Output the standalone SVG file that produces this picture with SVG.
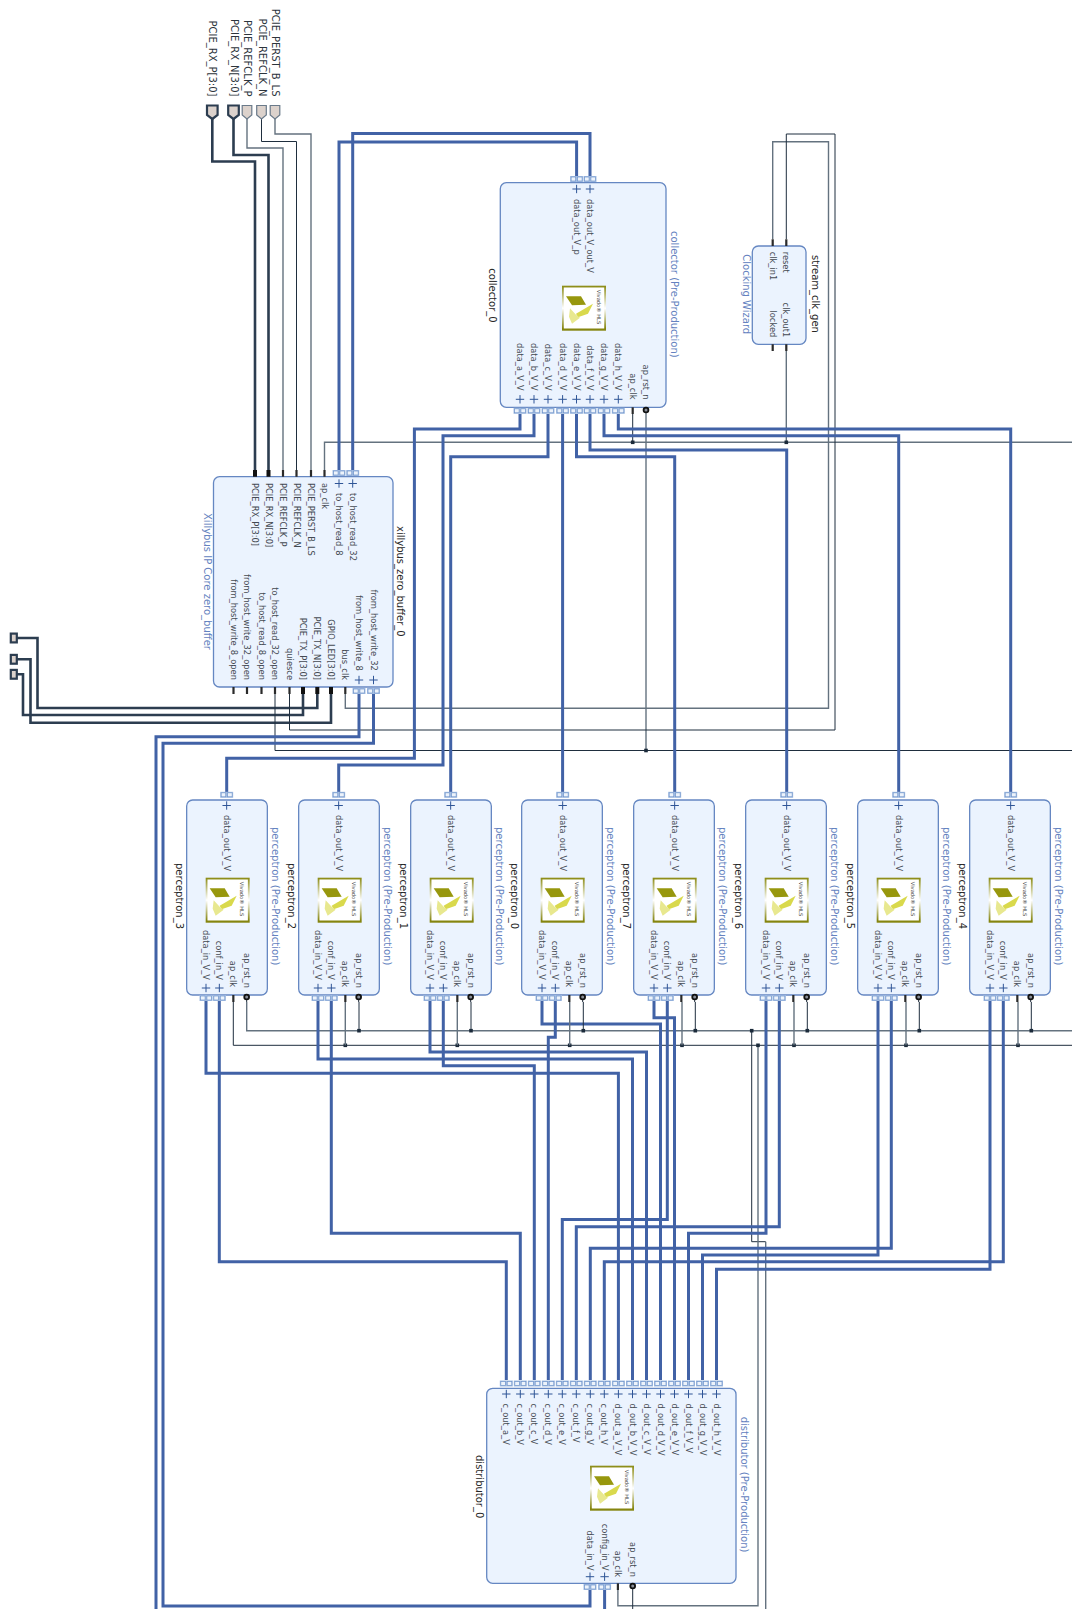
<svg xmlns="http://www.w3.org/2000/svg" width="1072" height="1609" viewBox="0 0 1072 1609">
<style>
text{font-family:"DejaVu Sans","Liberation Sans",sans-serif}
.n{font-size:10px;fill:#262626}
.ip{font-size:10px;fill:#6482c0}
.p{font-size:8.3px;fill:#444a52}
.e{text-anchor:end}
.pt{font-size:10px;fill:#2c343c;text-anchor:end}
.box{fill:#ebf3fe;stroke:#6587c2;stroke-width:1.3}
.bus{fill:none;stroke:#4162a6;stroke-width:3}
.dk{fill:none;stroke:#1f2e3e;stroke-width:1}
.gr{fill:none;stroke:#64727f;stroke-width:1.4}
.th{fill:none;stroke:#2c3d50;stroke-width:2.6}
.stub{stroke:#2a2a2a;stroke-width:2.2}
.stubb{stroke:#111;stroke-width:4}
.port{fill:#dcd2cc;stroke:#6a7a8a;stroke-width:1.2}
.portb{fill:#dcd2cc;stroke:#2c3d50;stroke-width:2.2}
.inv{fill:#8a8f99;stroke:#111;stroke-width:1.8}
</style>
<defs>
<linearGradient id="lg" x1="0" y1="0" x2="0" y2="1"><stop offset="0" stop-color="#8a8a12"/><stop offset=".5" stop-color="#ffffff"/><stop offset=".95" stop-color="#85850f"/></linearGradient>
<g id="logo">
<rect width="44" height="45" fill="url(#lg)"/><rect x="1.8" y="1.8" width="40.4" height="41" fill="#fff"/>
<polygon points="4,10.5 19,10.5 24,19 10,19.5" fill="#97970d"/>
<polygon points="14,28 31,18 26,28 16,31.5" fill="#d9d94c"/>
<polygon points="8,22.5 14,29 18,32 10,38 7,31" fill="#e8e88f"/>
<text transform="translate(34.5,4) rotate(90)" style="font-size:5.2px;fill:#444">Vivado® HLS</text>
</g>
<g id="s"><rect x="-6.5" y="-3" width="13" height="6" fill="#a6bfe3"/><rect x="-5.5" y="-2" width="4.6" height="4" fill="#edf3fb" stroke="#6f94cb" stroke-width=".7"/><rect x=".9" y="-2" width="4.6" height="4" fill="#edf3fb" stroke="#6f94cb" stroke-width=".7"/></g>
<path id="pl" d="M-4.2 0H4.2M0-4.2V4.2" fill="none" stroke="#2f5597" stroke-width="1"/>
<rect id="j" x="-1.8" y="-1.8" width="3.6" height="3.6" fill="#1b2a3a"/>
<g id="ppins">
<use href="#s" x="40" y="-5.2"/><use href="#s" x="19.33" y="198"/><use href="#s" x="32.67" y="198"/>
<use href="#pl" x="40" y="5.5"/><use href="#pl" x="19.33" y="188"/><use href="#pl" x="32.67" y="188"/>
<path class="stub" d="M46.67 195V202"/><path class="dk" d="M60 197V202"/><circle class="inv" cx="60" cy="197" r="2.4"/>
</g>
<g id="pbody"><rect class="box" width="80.67" height="195" rx="6"/><use href="#logo" x="19" y="77.7"/><use href="#ppins"/></g>
<g id="pbody2"><rect class="box" x="-1" width="80.67" height="195" rx="6"/><use href="#logo" x="18" y="77.7"/><use href="#ppins"/></g>
</defs>

<g id="connectors">
<path class="th" d="M212.3 119V161.5H255V470"/>
<path class="th" d="M233.5 119V155H268.5V470"/>
<path class="gr" d="M247 118V148H283V470"/>
<path class="dk" d="M261.5 118V141.5H296.5V470"/>
<path class="gr" d="M275 118V134H311V470"/>
<path class="th" d="M317.3 694V708H37.5V638H17"/>
<path class="th" d="M303 694V715H23V674.3H17"/>
<path class="th" d="M331 694V722.7H30.5V659.3H17"/>

<path class="gr" d="M1072 442.3H324.5V470"/>
<path class="dk" d="M632.7 414V442.3"/>
<path class="gr" d="M786.3 351V442.3"/>
<path class="dk" d="M1072 750.5H275V694"/>
<path class="gr" d="M646 412V750.5"/>
<path class="gr" d="M345.3 694V708.3H828.5V141.7H772.7V239"/>
<path class="dk" d="M289.5 694V730H835V134H786.3V239"/>
<path class="gr" d="M246.7 1002V1030.7H1072"/>
<path class="dk" d="M233.3 1002V1045.3H1072"/>
<path class="dk" d="M751.7 1030.7V1241.7H765.7"/>
<path class="gr" d="M765.7 1241.7V1609"/>
<path class="gr" d="M758 1045.3V1605.7H617.9V1590"/>
<path class="dk" d="M632.7 1586V1609"/>

<path class="bus" d="M339 470V142H576.6V176"/>
<path class="bus" d="M352.7 470V133.5H590V176"/>
<path class="bus" d="M373.5 694V743.3H163V1606H590V1590"/>
<path class="bus" d="M359 694V736.7H156V1609"/>
<path class="bus" d="M604.6 1590V1609"/>

<path class="bus" d="M520 414V429H414.4V758.3H226.7V792"/>
<path class="bus" d="M534 414V435.7H443V765H338.7V792"/>
<path class="bus" d="M548 414V456.7H450.7V792"/>
<path class="bus" d="M562.6 414V792"/>
<path class="bus" d="M576.5 414V456.7H674.7V792"/>
<path class="bus" d="M590 414V450H786.7V792"/>
<path class="bus" d="M604 414V435.7H898.7V792"/>
<path class="bus" d="M618.3 414V429H1010.7V792"/>

<path class="bus" d="M206 1001V1073.3H618.4V1380"/>
<path class="bus" d="M219.3 1001V1261.7H506.3V1380"/>
<path class="bus" d="M318 1001V1059H632.5V1380"/>
<path class="bus" d="M331.3 1001V1233.3H520.3V1380"/>
<path class="bus" d="M430 1001V1052H646.5V1380"/>
<path class="bus" d="M443.3 1001V1065.7H534.3V1380"/>
<path class="bus" d="M542 1001V1024H660.5V1380"/>
<path class="bus" d="M555.3 1001V1037.3H548.3V1380"/>
<path class="bus" d="M654 1001V1017.7H674.5V1380"/>
<path class="bus" d="M667.3 1001V1219.5H562.3V1380"/>
<path class="bus" d="M766 1001V1233.3H688.5V1380"/>
<path class="bus" d="M779.3 1001V1226.7H576.3V1380"/>
<path class="bus" d="M878 1001V1255H702.5V1380"/>
<path class="bus" d="M891.3 1001V1248.3H590.3V1380"/>
<path class="bus" d="M990 1001V1269.3H716.5V1380"/>
<path class="bus" d="M1003.3 1001V1261.7H604.3V1380"/>

<use href="#j" x="632.7" y="442.3"/><use href="#j" x="786.3" y="442.3"/><use href="#j" x="646" y="750.5"/>
<use href="#j" x="359" y="1030.7"/><use href="#j" x="471" y="1030.7"/><use href="#j" x="583.3" y="1030.7"/><use href="#j" x="695.3" y="1030.7"/><use href="#j" x="807.3" y="1030.7"/><use href="#j" x="919.3" y="1030.7"/><use href="#j" x="1031.3" y="1030.7"/><use href="#j" x="751.7" y="1030.7"/>
<use href="#j" x="345.3" y="1045.3"/><use href="#j" x="457.3" y="1045.3"/><use href="#j" x="569.7" y="1045.3"/><use href="#j" x="682" y="1045.3"/><use href="#j" x="794" y="1045.3"/><use href="#j" x="906" y="1045.3"/><use href="#j" x="1018" y="1045.3"/><use href="#j" x="758" y="1045.3"/>
<g class="dk"><path d="M359 1002V1030.7M471 1002V1030.7M583.3 1002V1030.7M695.3 1002V1030.7M807.3 1002V1030.7M919.3 1002V1030.7M1031.3 1002V1030.7"/></g>
<g class="gr"><path d="M345.3 1002V1045.3M457.3 1002V1045.3M569.7 1002V1045.3M682 1002V1045.3M794 1002V1045.3M906 1002V1045.3M1018 1002V1045.3"/></g>
</g>

<g id="port_PCIE_RX_P"><polygon class="portb" points="207,105.5 217.6,105.5 217.6,115 212.3,119 207,115"/><text class="pt" transform="translate(209,96.5) rotate(90)">PCIE_RX_P[3:0]</text></g>
<g id="port_PCIE_RX_N"><polygon class="portb" points="228.2,105.5 238.8,105.5 238.8,115 233.5,119 228.2,115"/><text class="pt" transform="translate(230.5,96.5) rotate(90)">PCIE_RX_N[3:0]</text></g>
<g id="port_PCIE_REFCLK_P"><polygon class="port" points="242.2,105.5 251.8,105.5 251.8,115 247,119 242.2,115"/><text class="pt" transform="translate(244,96.5) rotate(90)">PCIE_REFCLK_P</text></g>
<g id="port_PCIE_REFCLK_N"><polygon class="port" points="256.7,105.5 266.3,105.5 266.3,115 261.5,119 256.7,115"/><text class="pt" transform="translate(258.5,96.5) rotate(90)">PCIE_REFCLK_N</text></g>
<g id="port_PCIE_PERST_B_LS"><polygon class="port" points="270.2,105.5 279.8,105.5 279.8,115 275,119 270.2,115"/><text class="pt" transform="translate(272,96.5) rotate(90)">PCIE_PERST_B_LS</text></g>
<g id="port_PCIE_TX_N"><rect class="portb" x="10.8" y="633.6" width="6" height="8.8"/></g>
<g id="port_GPIO_LED"><rect class="portb" x="10.8" y="654.9" width="6" height="8.8"/></g>
<g id="port_PCIE_TX_P"><rect class="portb" x="10.8" y="669.9" width="6" height="8.8"/></g>

<g id="xillybus_zero_buffer_0">
<rect class="box" x="213.5" y="476.7" width="179.5" height="210.3" rx="6"/>
<path class="stubb" d="M255 470V476.7M268.5 470V476.7M303 687V694M317.3 687V694M331 687V694"/>
<path class="stub" d="M283 470V476.7M296.5 470V476.7M311 470V476.7M324.5 470V476.7M233.5 687V694M247 687V694M261.5 687V694M275 687V694M289.5 687V694M345.3 687V694"/>
<use href="#s" x="339" y="473"/><use href="#s" x="352.7" y="473"/><use href="#s" x="359" y="691"/><use href="#s" x="373.5" y="691"/>
<use href="#pl" x="339" y="483.5"/><use href="#pl" x="352.7" y="483.5"/><use href="#pl" x="359" y="680"/><use href="#pl" x="373.5" y="680"/>
<text class="n" transform="translate(397,526) rotate(90)">xillybus_zero_buffer_0</text>
<text class="ip" transform="translate(203.5,513) rotate(90)">Xillybus IP Core zero_buffer</text>
<text class="p" transform="translate(252,483) rotate(90)">PCIE_RX_P[3:0]</text>
<text class="p" transform="translate(265.5,483) rotate(90)">PCIE_RX_N[3:0]</text>
<text class="p" transform="translate(280,483) rotate(90)">PCIE_REFCLK_P</text>
<text class="p" transform="translate(293.5,483) rotate(90)">PCIE_REFCLK_N</text>
<text class="p" transform="translate(308,483) rotate(90)">PCIE_PERST_B_LS</text>
<text class="p" transform="translate(321.5,483) rotate(90)">ap_clk</text>
<text class="p" transform="translate(336,493) rotate(90)">to_host_read_8</text>
<text class="p" transform="translate(349.7,493) rotate(90)">to_host_read_32</text>
<text class="p e" transform="translate(370.5,670.7) rotate(90)">from_host_write_32</text>
<text class="p e" transform="translate(356,670.7) rotate(90)">from_host_write_8</text>
<text class="p e" transform="translate(342.3,680) rotate(90)">bus_clk</text>
<text class="p e" transform="translate(328,680) rotate(90)">GPIO_LED[3:0]</text>
<text class="p e" transform="translate(314.3,680) rotate(90)">PCIE_TX_N[3:0]</text>
<text class="p e" transform="translate(300,680) rotate(90)">PCIE_TX_P[3:0]</text>
<text class="p e" transform="translate(286.5,680) rotate(90)">quiesce</text>
<text class="p e" transform="translate(272,680) rotate(90)">to_host_read_32_open</text>
<text class="p e" transform="translate(258.5,680) rotate(90)">to_host_read_8_open</text>
<text class="p e" transform="translate(244,680) rotate(90)">from_host_write_32_open</text>
<text class="p e" transform="translate(230.5,680) rotate(90)">from_host_write_8_open</text>
</g>

<g id="collector_0">
<rect class="box" x="500.3" y="182.7" width="165.7" height="224.6" rx="6"/>
<use href="#logo" x="562" y="285.7"/>
<use href="#s" x="576.6" y="179"/><use href="#s" x="590" y="179"/>
<use href="#s" x="520" y="410.8"/><use href="#s" x="534" y="410.8"/><use href="#s" x="548" y="410.8"/><use href="#s" x="562.6" y="410.8"/><use href="#s" x="576.5" y="410.8"/><use href="#s" x="590" y="410.8"/><use href="#s" x="604" y="410.8"/><use href="#s" x="618.3" y="410.8"/>
<use href="#pl" x="576.6" y="189"/><use href="#pl" x="590" y="189"/>
<use href="#pl" x="520" y="399.3"/><use href="#pl" x="534" y="399.3"/><use href="#pl" x="548" y="399.3"/><use href="#pl" x="562.6" y="399.3"/><use href="#pl" x="576.5" y="399.3"/><use href="#pl" x="590" y="399.3"/><use href="#pl" x="604" y="399.3"/><use href="#pl" x="618.3" y="399.3"/>
<path class="stub" d="M632.7 407.3V414"/><circle class="inv" cx="646" cy="410" r="2.4"/>
<text class="n" transform="translate(489,268.3) rotate(90)">collector_0</text>
<text class="ip" transform="translate(671,231) rotate(90)">collector (Pre-Production)</text>
<text class="p" transform="translate(573.6,199) rotate(90)">data_out_V_p</text>
<text class="p" transform="translate(587,199) rotate(90)">data_out_V_out_V</text>
<text class="p e" transform="translate(517,390.7) rotate(90)">data_a_V_V</text>
<text class="p e" transform="translate(531,390.7) rotate(90)">data_b_V_V</text>
<text class="p e" transform="translate(545,390.7) rotate(90)">data_c_V_V</text>
<text class="p e" transform="translate(559.6,390.7) rotate(90)">data_d_V_V</text>
<text class="p e" transform="translate(573.5,390.7) rotate(90)">data_e_V_V</text>
<text class="p e" transform="translate(587,390.7) rotate(90)">data_f_V_V</text>
<text class="p e" transform="translate(601,390.7) rotate(90)">data_g_V_V</text>
<text class="p e" transform="translate(615.3,390.7) rotate(90)">data_h_V_V</text>
<text class="p e" transform="translate(629.7,399.5) rotate(90)">ap_clk</text>
<text class="p e" transform="translate(643,399.5) rotate(90)">ap_rst_n</text>
</g>

<g id="stream_clk_gen">
<rect class="box" x="752.3" y="246" width="53.7" height="98.3" rx="6"/>
<path class="stub" d="M772.7 239.3V246M786.3 239.3V246M772.7 344.3V351M786.3 344.3V351"/>
<text class="n" transform="translate(811.5,255) rotate(90)">stream_clk_gen</text>
<text class="ip" transform="translate(742.5,254.3) rotate(90)">Clocking Wizard</text>
<text class="p" transform="translate(769.7,251.7) rotate(90)">clk_in1</text>
<text class="p" transform="translate(783.3,251.7) rotate(90)">reset</text>
<text class="p e" transform="translate(769.7,337.3) rotate(90)">locked</text>
<text class="p e" transform="translate(783.3,337.3) rotate(90)">clk_out1</text>
</g>

<g id="perceptron_3" transform="translate(186.67,800)"><use href="#pbody"/>
<text class="n" transform="translate(-10.7,63) rotate(90)">perceptron_3</text><text class="ip" transform="translate(85.2,27) rotate(90)">perceptron (Pre-Production)</text>
<text class="p" transform="translate(37,15) rotate(90)">data_out_V_V</text><text class="p e" transform="translate(16.3,180) rotate(90)">data_in_V_V</text><text class="p e" transform="translate(29.7,180) rotate(90)">conf_in_V</text><text class="p e" transform="translate(43.7,187) rotate(90)">ap_clk</text><text class="p e" transform="translate(57,188) rotate(90)">ap_rst_n</text></g>
<g id="perceptron_2" transform="translate(298.67,800)"><use href="#pbody"/>
<text class="n" transform="translate(-10.7,63) rotate(90)">perceptron_2</text><text class="ip" transform="translate(85.2,27) rotate(90)">perceptron (Pre-Production)</text>
<text class="p" transform="translate(37,15) rotate(90)">data_out_V_V</text><text class="p e" transform="translate(16.3,180) rotate(90)">data_in_V_V</text><text class="p e" transform="translate(29.7,180) rotate(90)">conf_in_V</text><text class="p e" transform="translate(43.7,187) rotate(90)">ap_clk</text><text class="p e" transform="translate(57,188) rotate(90)">ap_rst_n</text></g>
<g id="perceptron_1" transform="translate(410.67,800)"><use href="#pbody"/>
<text class="n" transform="translate(-10.7,63) rotate(90)">perceptron_1</text><text class="ip" transform="translate(85.2,27) rotate(90)">perceptron (Pre-Production)</text>
<text class="p" transform="translate(37,15) rotate(90)">data_out_V_V</text><text class="p e" transform="translate(16.3,180) rotate(90)">data_in_V_V</text><text class="p e" transform="translate(29.7,180) rotate(90)">conf_in_V</text><text class="p e" transform="translate(43.7,187) rotate(90)">ap_clk</text><text class="p e" transform="translate(57,188) rotate(90)">ap_rst_n</text></g>
<g id="perceptron_0" transform="translate(522.67,800)"><use href="#pbody2"/>
<text class="n" transform="translate(-11.7,63) rotate(90)">perceptron_0</text><text class="ip" transform="translate(84.4,27) rotate(90)">perceptron (Pre-Production)</text>
<text class="p" transform="translate(37,15) rotate(90)">data_out_V_V</text><text class="p e" transform="translate(16.3,180) rotate(90)">data_in_V_V</text><text class="p e" transform="translate(29.7,180) rotate(90)">conf_in_V</text><text class="p e" transform="translate(43.7,187) rotate(90)">ap_clk</text><text class="p e" transform="translate(57,188) rotate(90)">ap_rst_n</text></g>
<g id="perceptron_7" transform="translate(634.67,800)"><use href="#pbody2"/>
<text class="n" transform="translate(-11.7,63) rotate(90)">perceptron_7</text><text class="ip" transform="translate(84.4,27) rotate(90)">perceptron (Pre-Production)</text>
<text class="p" transform="translate(37,15) rotate(90)">data_out_V_V</text><text class="p e" transform="translate(16.3,180) rotate(90)">data_in_V_V</text><text class="p e" transform="translate(29.7,180) rotate(90)">conf_in_V</text><text class="p e" transform="translate(43.7,187) rotate(90)">ap_clk</text><text class="p e" transform="translate(57,188) rotate(90)">ap_rst_n</text></g>
<g id="perceptron_6" transform="translate(746.67,800)"><use href="#pbody2"/>
<text class="n" transform="translate(-11.7,63) rotate(90)">perceptron_6</text><text class="ip" transform="translate(84.4,27) rotate(90)">perceptron (Pre-Production)</text>
<text class="p" transform="translate(37,15) rotate(90)">data_out_V_V</text><text class="p e" transform="translate(16.3,180) rotate(90)">data_in_V_V</text><text class="p e" transform="translate(29.7,180) rotate(90)">conf_in_V</text><text class="p e" transform="translate(43.7,187) rotate(90)">ap_clk</text><text class="p e" transform="translate(57,188) rotate(90)">ap_rst_n</text></g>
<g id="perceptron_5" transform="translate(858.67,800)"><use href="#pbody2"/>
<text class="n" transform="translate(-11.7,63) rotate(90)">perceptron_5</text><text class="ip" transform="translate(84.4,27) rotate(90)">perceptron (Pre-Production)</text>
<text class="p" transform="translate(37,15) rotate(90)">data_out_V_V</text><text class="p e" transform="translate(16.3,180) rotate(90)">data_in_V_V</text><text class="p e" transform="translate(29.7,180) rotate(90)">conf_in_V</text><text class="p e" transform="translate(43.7,187) rotate(90)">ap_clk</text><text class="p e" transform="translate(57,188) rotate(90)">ap_rst_n</text></g>
<g id="perceptron_4" transform="translate(970.67,800)"><use href="#pbody2"/>
<text class="n" transform="translate(-11.7,63) rotate(90)">perceptron_4</text><text class="ip" transform="translate(84.4,27) rotate(90)">perceptron (Pre-Production)</text>
<text class="p" transform="translate(37,15) rotate(90)">data_out_V_V</text><text class="p e" transform="translate(16.3,180) rotate(90)">data_in_V_V</text><text class="p e" transform="translate(29.7,180) rotate(90)">conf_in_V</text><text class="p e" transform="translate(43.7,187) rotate(90)">ap_clk</text><text class="p e" transform="translate(57,188) rotate(90)">ap_rst_n</text></g>

<g id="distributor_0">
<rect class="box" x="486.7" y="1388.3" width="249.3" height="195" rx="6"/>
<use href="#logo" x="590" y="1465.7"/>
<use href="#s" x="506.3" y="1383.5"/><use href="#s" x="520.3" y="1383.5"/><use href="#s" x="534.3" y="1383.5"/><use href="#s" x="548.3" y="1383.5"/><use href="#s" x="562.3" y="1383.5"/><use href="#s" x="576.3" y="1383.5"/><use href="#s" x="590.3" y="1383.5"/><use href="#s" x="604.3" y="1383.5"/><use href="#s" x="618.4" y="1383.5"/><use href="#s" x="632.5" y="1383.5"/><use href="#s" x="646.5" y="1383.5"/><use href="#s" x="660.5" y="1383.5"/><use href="#s" x="674.5" y="1383.5"/><use href="#s" x="688.5" y="1383.5"/><use href="#s" x="702.5" y="1383.5"/><use href="#s" x="716.5" y="1383.5"/>
<use href="#s" x="590" y="1587"/><use href="#s" x="604.6" y="1587"/>
<use href="#pl" x="506.3" y="1394"/><use href="#pl" x="520.3" y="1394"/><use href="#pl" x="534.3" y="1394"/><use href="#pl" x="548.3" y="1394"/><use href="#pl" x="562.3" y="1394"/><use href="#pl" x="576.3" y="1394"/><use href="#pl" x="590.3" y="1394"/><use href="#pl" x="604.3" y="1394"/><use href="#pl" x="618.4" y="1394"/><use href="#pl" x="632.5" y="1394"/><use href="#pl" x="646.5" y="1394"/><use href="#pl" x="660.5" y="1394"/><use href="#pl" x="674.5" y="1394"/><use href="#pl" x="688.5" y="1394"/><use href="#pl" x="702.5" y="1394"/><use href="#pl" x="716.5" y="1394"/>
<use href="#pl" x="590" y="1576.7"/><use href="#pl" x="604.6" y="1576.7"/>
<path class="stub" d="M617.9 1583.3V1590"/><circle class="inv" cx="632.7" cy="1586" r="2.4"/>
<text class="n" transform="translate(476,1455) rotate(90)">distributor_0</text>
<text class="ip" transform="translate(741,1416.7) rotate(90)">distributor (Pre-Production)</text>
<text class="p" transform="translate(503.3,1403.5) rotate(90)">c_out_a_V</text>
<text class="p" transform="translate(517.3,1403.5) rotate(90)">c_out_b_V</text>
<text class="p" transform="translate(531.3,1403.5) rotate(90)">c_out_c_V</text>
<text class="p" transform="translate(545.3,1403.5) rotate(90)">c_out_d_V</text>
<text class="p" transform="translate(559.3,1403.5) rotate(90)">c_out_e_V</text>
<text class="p" transform="translate(573.3,1403.5) rotate(90)">c_out_f_V</text>
<text class="p" transform="translate(587.3,1403.5) rotate(90)">c_out_g_V</text>
<text class="p" transform="translate(601.3,1403.5) rotate(90)">c_out_h_V</text>
<text class="p" transform="translate(615.4,1403.5) rotate(90)">d_out_a_V_V</text>
<text class="p" transform="translate(629.5,1403.5) rotate(90)">d_out_b_V_V</text>
<text class="p" transform="translate(643.5,1403.5) rotate(90)">d_out_c_V_V</text>
<text class="p" transform="translate(657.5,1403.5) rotate(90)">d_out_d_V_V</text>
<text class="p" transform="translate(671.5,1403.5) rotate(90)">d_out_e_V_V</text>
<text class="p" transform="translate(685.5,1403.5) rotate(90)">d_out_f_V_V</text>
<text class="p" transform="translate(699.5,1403.5) rotate(90)">d_out_g_V_V</text>
<text class="p" transform="translate(713.5,1403.5) rotate(90)">d_out_h_V_V</text>
<text class="p e" transform="translate(587,1570.7) rotate(90)">data_in_V</text>
<text class="p e" transform="translate(601.6,1570.7) rotate(90)">config_in_V</text>
<text class="p e" transform="translate(614.9,1577) rotate(90)">ap_clk</text>
<text class="p e" transform="translate(629.7,1577) rotate(90)">ap_rst_n</text>
</g>
</svg>
